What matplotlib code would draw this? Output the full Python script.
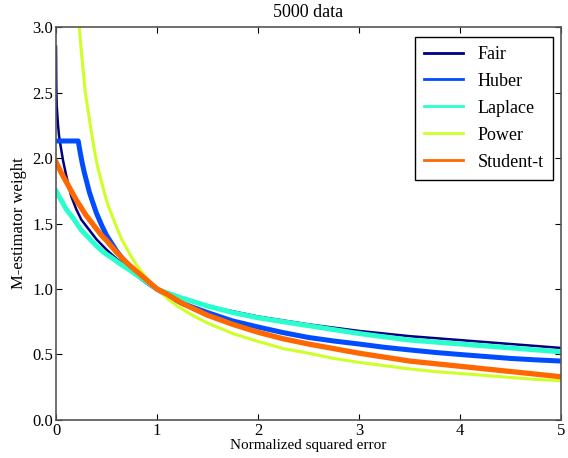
import numpy as np
import matplotlib
matplotlib.use("Agg")
import matplotlib.pyplot as plt

# values
names = ["Fair", "Huber", "Laplace", "Power", "Student-t"]

fair_x = [0, 0.003, 0.007, 0.02, 0.03, 0.046, 0.07, 0.1, 0.15, 0.2, 0.25, 0.3, 0.35,
          0.4, 0.5, 0.6, 0.7, 0.85, 1.0, 1.25, 1.5, 1.75, 2.0, 2.25, 2.5, 2.75, 3.0,
          3.25, 3.5, 3.75, 4.0, 4.25, 4.5, 4.75, 5.0]
fair_y = [2.85, 2.55, 2.40, 2.25, 2.17, 2.09, 1.98, 1.87, 1.71, 1.61, 1.53, 1.48, 1.43,
          1.38, 1.30, 1.23, 1.17, 1.08, 1.00, 0.93, 0.87, 0.83, 0.79, 0.76, 0.73, 0.705, 0.68,
          0.66, 0.64, 0.625, 0.61, 0.595, 0.58, 0.565, 0.55]

huber_x = [0, 0.22, 0.24, 0.26, 0.28, 0.3, 0.33, 0.36, 0.4, 0.45, 0.5, 0.55, 0.6, 0.65,
           0.7, 0.77, 0.85, 0.92, 1.0, 1.1, 1.25, 1.5, 1.75, 2.0, 2.25, 2.5, 2.75, 3.0,
           3.25, 3.5, 3.75, 4.0, 4.25, 4.5, 4.75, 5.0]
huber_y = [2.13, 2.13, 2.04, 1.96, 1.89, 1.83, 1.74, 1.67, 1.58, 1.49, 1.41, 1.35, 1.29, 1.24,
           1.20, 1.14, 1.08, 1.04, 1.00, 0.95, 0.89, 0.82, 0.756, 0.71, 0.667, 0.63, 0.603, 0.58,
           0.555, 0.535, 0.516, 0.50, 0.485, 0.47, 0.459, 0.45]

laplace_x = [0, 0.02, 0.05, 0.1, 0.17, 0.25, 0.3, 0.4, 0.47, 0.55, 0.62, 0.7, 0.85, 1.0,
             1.1, 1.25, 1.5, 1.75, 2.0, 2.25, 2.5, 2.75, 3.0, 3.25, 3.5, 3.75, 4.0,
             4.25, 4.5, 4.75, 5.0]
laplace_y = [1.75, 1.72, 1.68, 1.61, 1.54, 1.45, 1.41, 1.33, 1.28, 1.24, 1.20, 1.16, 1.08, 1.00,
             0.97, 0.93, 0.87, 0.82, 0.78, 0.75, 0.72, 0.69, 0.66, 0.635, 0.61, 0.595, 0.58,
             0.565, 0.55, 0.535, 0.52]

power_x = [0.23, 0.25, 0.27, 0.29, 0.32, 0.35, 0.38, 0.41, 0.45, 0.48, 0.52, 0.56, 0.6,
           0.65, 0.7, 0.75, 0.8, 0.9, 1.0, 1.1, 1.2, 1.35, 1.5, 1.75, 2.0, 2.25, 2.5,
           2.75, 3.0, 3.25, 3.5, 3.75, 4.0, 4.25, 4.5, 4.75, 5.0]
power_y = [3.0, 2.82, 2.66, 2.50, 2.35, 2.20, 2.06, 1.94, 1.82, 1.73, 1.63, 1.55, 1.47,
           1.38, 1.31, 1.24, 1.18, 1.08, 1.00, 0.93, 0.87, 0.80, 0.74, 0.66, 0.60, 0.545, 0.51,
           0.47, 0.44, 0.415, 0.39, 0.37, 0.355, 0.34, 0.325, 0.31, 0.30]

student_x = [0, 0.05, 0.1, 0.15, 0.2, 0.25, 0.3, 0.35, 0.4, 0.45, 0.5, 0.6, 0.7, 0.85,
             1.0, 1.1, 1.25, 1.5, 1.75, 2.0, 2.25, 2.5, 2.75, 3.0, 3.25, 3.5, 3.75,
             4.0, 4.25, 4.5, 4.75, 5.0]
student_y = [1.97, 1.89, 1.82, 1.75, 1.68, 1.62, 1.56, 1.51, 1.46, 1.41, 1.37, 1.28, 1.20, 1.10,
             1.00, 0.96, 0.89, 0.80, 0.73, 0.67, 0.62, 0.58, 0.545, 0.51, 0.48, 0.45, 0.43,
             0.41, 0.39, 0.37, 0.35, 0.33]

xs = [fair_x, huber_x, laplace_x, power_x, student_x]
ys = [fair_y, huber_y, laplace_y, power_y, student_y]
widths = [1.8, 3.6, 3.6, 2.2, 3.8]

plt.rcParams['font.family'] = ['Liberation Serif', 'DejaVu Serif']

colors = plt.cm.jet(np.linspace(0, 1, 6))[:5]

fig = plt.figure(figsize=(5.68, 4.58), dpi=100)
ax = fig.add_axes([0.0986, 0.083, 0.889, 0.858])

for x, y, c, lw, name in zip(xs, ys, colors, widths, names):
    ax.plot(x, y, color=c, lw=lw, label=name, solid_joinstyle='round')

ax.set_xlim(0, 5)
ax.set_ylim(0, 3)
ax.set_xticks(range(6))
ax.set_yticks(np.arange(0, 3.01, 0.5))
ax.set_yticklabels(['%.1f' % v for v in np.arange(0, 3.01, 0.5)])
ax.tick_params(direction='in', top=True, right=True, labelsize=12, length=4, pad=2)
for s in ax.spines.values():
    s.set_color('#555555')
    s.set_linewidth(1.2)

ax.set_xlabel('Normalized squared error', fontsize=11, labelpad=0)
ax.set_ylabel('M-estimator weight', fontsize=12, labelpad=4)
ax.set_title('5000 data', fontsize=13, pad=7)

leg = ax.legend(loc='upper right', fontsize=13, fancybox=False, framealpha=1,
                borderpad=0.5, handlelength=2.2, labelspacing=0.55,
                borderaxespad=0, bbox_to_anchor=(0.984, 0.975))
leg.get_frame().set_edgecolor('black')
for h in leg.get_lines():
    h.set_linewidth(2)

fig.savefig('out.png', dpi=100)
